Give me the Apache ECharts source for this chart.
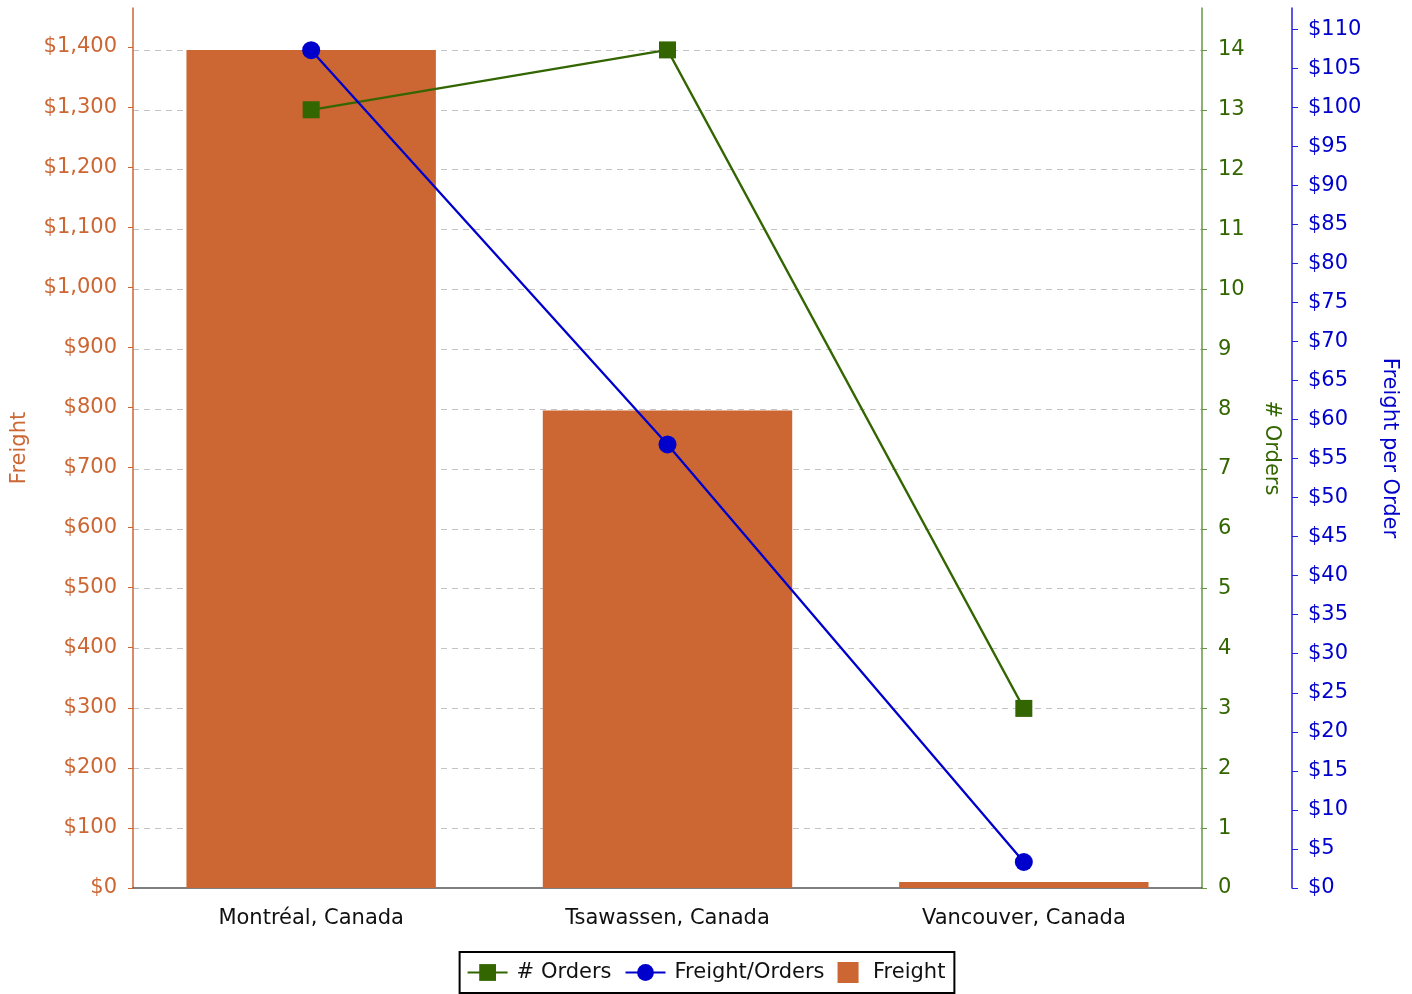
<!DOCTYPE html>
<html><head><meta charset="utf-8">
<script src="https://cdn.jsdelivr.net/npm/echarts@6/dist/echarts.min.js"></script>
<style>html,body{margin:0;padding:0;background:#fff}#c{width:1412px;height:994px}</style>
</head><body><div id="c"></div>
<script>
const categories = ['Montréal, Canada', 'Tsawassen, Canada', 'Vancouver, Canada'];
const freight = [1395, 795, 10];
const orders = [13, 14, 3];
const freightPerOrder = [107.3, 56.8, 3.33];

const FONT = 'DejaVu Sans';
const FS = 21;
const cBar = '#CC6633', cGreen = '#336600', cBlue = '#0000CC';
const money = v => '$' + v.toLocaleString('en-US');

const chart = echarts.init(document.getElementById('c'), null, {renderer: 'canvas'});
chart.setOption({
  animation: false,
  textStyle: {fontFamily: FONT},
  grid: {left: 133, right: 210, top: 8, bottom: 106, containLabel: false, outerBoundsMode: 'none'},
  xAxis: {
    type: 'category', data: categories,
    axisLine: {lineStyle: {color: '#555', width: 1.5}},
    axisTick: {alignWithLabel: true, length: 6, lineStyle: {color: '#222'}},
    axisLabel: {color: '#111', fontSize: FS, fontFamily: FONT, margin: 20}
  },
  yAxis: [
    {
      type: 'value', min: 0, max: 1465, interval: 100, position: 'left',
      name: 'Freight', nameLocation: 'middle', nameGap: 103, nameRotate: 90,
      nameTextStyle: {color: cBar, fontSize: FS, fontFamily: FONT},
      axisLine: {show: true, lineStyle: {color: cBar, width: 1.5}},
      axisTick: {show: true, length: 5, lineStyle: {color: cBar}},
      axisLabel: {color: cBar, fontSize: FS, fontFamily: FONT, margin: 16, padding: [5, 0, 0, 0], formatter: v => v > 1400 ? '' : money(v), showMaxLabel: false},
      splitLine: {show: false}
    },
    {
      type: 'value', min: 0, max: 14.7, interval: 1, position: 'right',
      name: '# Orders', nameLocation: 'middle', nameGap: 59, nameRotate: -90,
      nameTextStyle: {color: cGreen, fontSize: FS, fontFamily: FONT},
      axisLine: {show: true, lineStyle: {color: '#669944', width: 1.5}},
      axisTick: {show: true, length: 5, lineStyle: {color: '#669944'}},
      axisLabel: {color: cGreen, fontSize: FS, fontFamily: FONT, margin: 16, padding: [5, 0, 0, 0], formatter: v => v > 14 ? '' : String(v), showMaxLabel: false},
      splitLine: {show: true, showMaxLine: false, showMinLine: false, lineStyle: {color: '#c4c4c4', type: [6, 5], width: 1.2}}
    },
    {
      type: 'value', min: 0, max: 112.7, interval: 5, position: 'right', offset: 90,
      name: 'Freight per Order', nameLocation: 'middle', nameGap: 87, nameRotate: -90,
      nameTextStyle: {color: cBlue, fontSize: FS, fontFamily: FONT},
      axisLine: {show: true, lineStyle: {color: '#2222DD', width: 1.5}},
      axisTick: {show: true, length: 6, lineStyle: {color: '#2222DD'}},
      axisLabel: {color: cBlue, fontSize: FS, fontFamily: FONT, margin: 16, padding: [5, 0, 0, 0], formatter: v => v > 110 ? '' : money(v), showMaxLabel: false},
      splitLine: {show: false}
    }
  ],
  legend: {
    bottom: 1, left: 'center',
    data: [
      {name: '# Orders'},
      {name: 'Freight/Orders'},
      {name: 'Freight', icon: 'path://M0,0L10,0L10,10L0,10Z', textStyle: {padding: [0, 0, 0, 0]}}
    ],
    itemWidth: 40, itemHeight: 21, itemGap: 13,
    padding: [10, 9, 10, 7],
    borderColor: '#000', borderWidth: 2, borderRadius: 0,
    textStyle: {color: '#111', fontSize: FS, fontFamily: FONT, padding: [0, 0, 0, 4]}
  },
  series: [
    {
      name: 'Freight', type: 'bar', yAxisIndex: 0, data: freight,
      barCategoryGap: '30%', itemStyle: {color: cBar}, z: 1
    },
    {
      name: '# Orders', type: 'line', yAxisIndex: 1, data: orders,
      symbol: 'rect', symbolSize: 17, lineStyle: {color: cGreen, width: 2.3},
      itemStyle: {color: cGreen}, z: 3
    },
    {
      name: 'Freight/Orders', type: 'line', yAxisIndex: 2, data: freightPerOrder,
      symbol: 'circle', symbolSize: 18, lineStyle: {color: cBlue, width: 2.3},
      itemStyle: {color: cBlue}, z: 4
    }
  ]
});
</script>
</body></html>
